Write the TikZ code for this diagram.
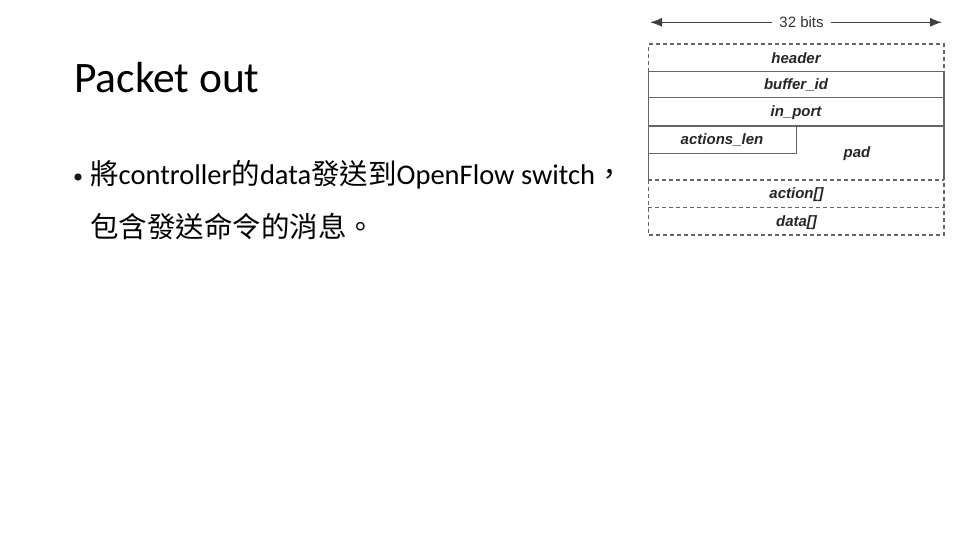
\documentclass[tikz,border=0pt]{standalone}
\usepackage{fontspec}
\setmainfont{Carlito}
\newfontfamily\cjk{Noto Sans CJK TC}
\newfontfamily\fieldfont{Liberation Sans}
\usetikzlibrary{arrows.meta}

\begin{document}
\begin{tikzpicture}[x=1pt, y=-1pt,
    solidline/.style={draw=black!60, line width=1.1pt}, % Style for solid field borders
    dashline/.style={draw=black!60, line width=1.1pt, dash pattern=on 4pt off 3pt}, % Style for dashed borders
    field/.style={text=black!85, font=\fieldfont\fontsize{15}{15}\selectfont\bfseries\itshape, inner sep=0pt}, % Style for field labels
    bodytext/.style={anchor=base west, inner sep=0pt, font=\fontsize{28.5}{28.5}\selectfont},
    widtharrow/.style={draw=black!75, line width=1.1pt, -{Latex[length=12pt, width=9pt]}}
]
% Page frame (960 x 540)
\useasboundingbox (0,0) rectangle (960,540);

% Title and bullet text
\node[anchor=base west, inner sep=0pt, font=\fontsize{43.5}{43.5}\selectfont] (title) at (74,93) {Packet out};
\node[fill=black!90, circle, inner sep=2.6pt] (bullet) at (78,177) {};
\node[bodytext] (line1) at (90,185)
    {{\cjk 將}controller{\cjk 的}data{\cjk 發送到}OpenFlow switch{\cjk ，}};
\node[bodytext] (line2) at (90,237)
    {\cjk 包含發送命令的消息。};

% Define coordinates for the packet layout
\coordinate (tl) at (648.3, 44);
\coordinate (tr) at (944, 44);
\coordinate (l1) at (648.3, 71.7);
\coordinate (r1) at (944, 71.7);
\coordinate (l2) at (648.3, 97.3);
\coordinate (r2) at (944, 97.3);
\coordinate (l3) at (648.3, 126);
\coordinate (m3) at (796.7, 126);
\coordinate (r3) at (944, 126);
\coordinate (l4) at (648.3, 153.3);
\coordinate (m4) at (796.7, 153.3);
\coordinate (l5) at (648.3, 180);
\coordinate (r5) at (944, 180);
\coordinate (l6) at (648.3, 207.7);
\coordinate (r6) at (944, 207.7);
\coordinate (bl) at (648.3, 235);
\coordinate (br) at (944, 235);

% 32 bits width arrow
\coordinate (wl) at (650, 22.3);
\coordinate (wr) at (942, 22.3);
\node[text=black!80, font=\fieldfont\fontsize{15}{15}\selectfont, inner xsep=7pt] (bits) at (801.5, 22.3) {32 bits};
\draw[widtharrow] (bits) -- (wl);
\draw[widtharrow] (bits) -- (wr);

% Dashed parts: header, action[], data[]
\draw[dashline] (l1) -- (tl) -- (tr) -- (r1);
\draw[dashline] (l5) -- (r5);
\draw[dashline] (l6) -- (r6);
\draw[dashline] (l5) -- (bl) -- (br) -- (r5);

% Solid parts: buffer_id, in_port, actions_len, pad
\draw[solidline] (l1) -- (r1);
\draw[solidline] (l2) -- (r2);
\draw[solidline] (l3) -- (r3);
\draw[solidline] (l1) -- (l5);
\draw[solidline] (r1) -- (r5);
\draw[solidline] (m3) -- (m4) -- (l4);

% Field labels
\node[field] (header) at (796, 57.7) {header};
\node[field] (bufferid) at (796, 85) {buffer\_id};
\node[field] (inport) at (796, 112.3) {in\_port};
\node[field] (actionslen) at (722, 140) {actions\_len};
\node[field] (pad) at (857, 154) {pad};
\node[field] (action) at (796.5, 194.3) {action[]};
\node[field] (data) at (796.5, 222.3) {data[]};

\end{tikzpicture}
\end{document}
